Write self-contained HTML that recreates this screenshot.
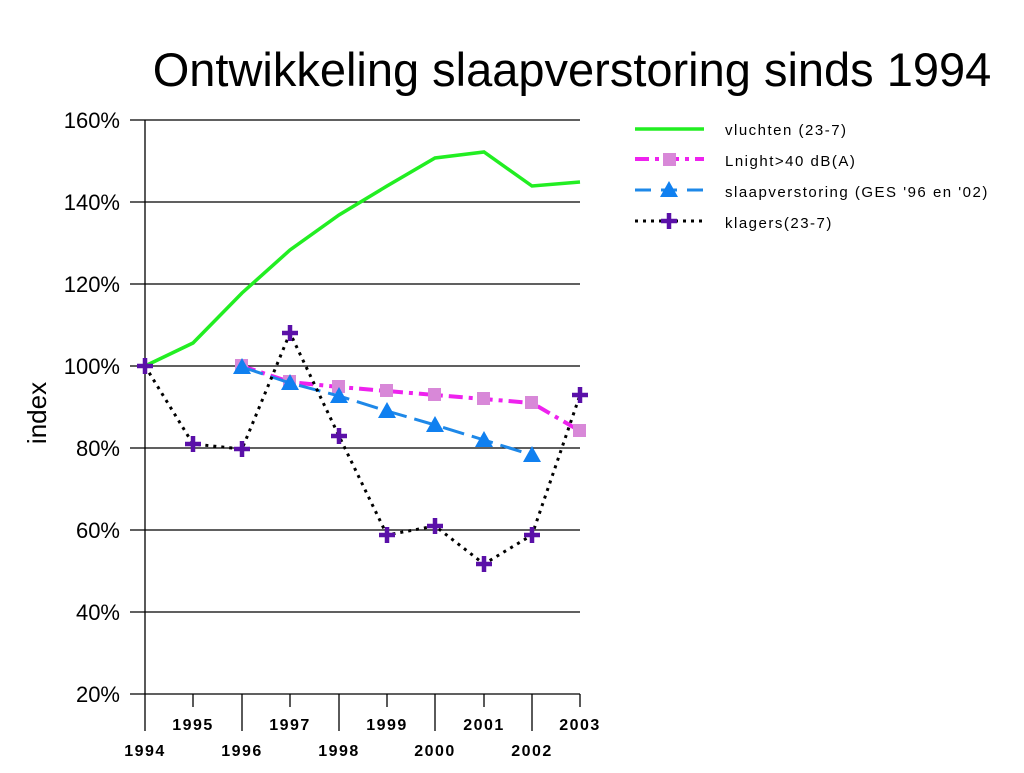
<!DOCTYPE html>
<html><head><meta charset="utf-8"><style>html,body{margin:0;padding:0;background:#fff}</style></head>
<body>
<svg width="1024" height="768" xmlns="http://www.w3.org/2000/svg" font-family="Liberation Sans, sans-serif">
<rect width="1024" height="768" fill="#fff"/>
<text x="572" y="86" font-size="47" text-anchor="middle">Ontwikkeling slaapverstoring sinds 1994</text>
<g stroke="#000" stroke-width="1.3">
<line x1="130" y1="120" x2="580" y2="120"/>
<line x1="130" y1="202" x2="580" y2="202"/>
<line x1="130" y1="284" x2="580" y2="284"/>
<line x1="130" y1="366" x2="580" y2="366"/>
<line x1="130" y1="448" x2="580" y2="448"/>
<line x1="130" y1="530" x2="580" y2="530"/>
<line x1="130" y1="612" x2="580" y2="612"/>
<line x1="130" y1="694" x2="580" y2="694"/>
<line x1="145" y1="120" x2="145" y2="731"/>
<line x1="193" y1="694" x2="193" y2="707"/>
<line x1="242" y1="694" x2="242" y2="731"/>
<line x1="290" y1="694" x2="290" y2="707"/>
<line x1="339" y1="694" x2="339" y2="731"/>
<line x1="387" y1="694" x2="387" y2="707"/>
<line x1="435" y1="694" x2="435" y2="731"/>
<line x1="484" y1="694" x2="484" y2="707"/>
<line x1="532" y1="694" x2="532" y2="731"/>
<line x1="580" y1="694" x2="580" y2="707"/>
</g>
<g font-size="22" text-anchor="end">
<text x="120" y="128">160%</text><text x="120" y="210">140%</text><text x="120" y="292">120%</text>
<text x="120" y="374">100%</text><text x="120" y="456">80%</text><text x="120" y="538">60%</text>
<text x="120" y="620">40%</text><text x="120" y="702">20%</text>
</g>
<text transform="translate(46,413) rotate(-90)" font-size="26" text-anchor="middle">index</text>
<g font-size="16" font-weight="bold" text-anchor="middle" letter-spacing="1.5">
<text x="193" y="730">1995</text><text x="290" y="730">1997</text><text x="387" y="730">1999</text><text x="484" y="730">2001</text><text x="580" y="730">2003</text>
<text x="145" y="756">1994</text><text x="242" y="756">1996</text><text x="339" y="756">1998</text><text x="435" y="756">2000</text><text x="532" y="756">2002</text>
</g>
<polyline fill="none" stroke="#22ee22" stroke-width="3.5" points="145,366 193,343 242,293 290,250 339,215 387,186 435,158 484,152 532,186 580,182"/>
<polyline fill="none" stroke="#ee22ee" stroke-width="4" stroke-dasharray="14,6,4,6" points="242,366 290,382 339,387 387,391 435,395 484,399 532,403 580,431"/>
<g fill="#d888d8">
<rect x="235" y="359" width="13" height="13"/><rect x="283" y="375" width="13" height="13"/><rect x="332" y="380" width="13" height="13"/><rect x="380" y="384" width="13" height="13"/><rect x="428" y="388" width="13" height="13"/><rect x="477" y="392" width="13" height="13"/><rect x="525" y="396" width="13" height="13"/><rect x="573" y="424" width="13" height="13"/>
</g>
<polyline fill="none" stroke="#1e88e8" stroke-width="3" stroke-dasharray="22,8" points="242,367 290,383 339,396 387,411 435,425 484,440 532,455"/>
<g fill="#1080f0">
<polygon points="242,358 233,374 251,374"/><polygon points="290,374 281,390 299,390"/><polygon points="339,387 330,403 348,403"/><polygon points="387,402 378,418 396,418"/><polygon points="435,416 426,432 444,432"/><polygon points="484,431 475,447 493,447"/><polygon points="532,446 523,462 541,462"/>
</g>
<polyline fill="none" stroke="#000" stroke-width="3" stroke-dasharray="3,5" points="145,366 193,444 242,449 290,333 339,436 387,535 435,526 484,564 532,535 580,395"/>
<g stroke="#5a10a8" stroke-width="4.5">
<path d="M137,366h16M145,358v16"/><path d="M185,444h16M193,436v16"/><path d="M234,449h16M242,441v16"/><path d="M282,333h16M290,325v16"/><path d="M331,436h16M339,428v16"/><path d="M379,535h16M387,527v16"/><path d="M427,526h16M435,518v16"/><path d="M476,564h16M484,556v16"/><path d="M524,535h16M532,527v16"/><path d="M572,395h16M580,387v16"/>
</g>
<line x1="635" y1="129" x2="704" y2="129" stroke="#22ee22" stroke-width="3.5"/>
<line x1="635" y1="159" x2="704" y2="159" stroke="#ee22ee" stroke-width="4" stroke-dasharray="14,6,4,6"/>
<rect x="663" y="153" width="13" height="13" fill="#d888d8"/>
<line x1="635" y1="190" x2="704" y2="190" stroke="#1e88e8" stroke-width="3" stroke-dasharray="16,10"/>
<polygon points="669,181 660,197 678,197" fill="#1080f0"/>
<line x1="635" y1="221" x2="704" y2="221" stroke="#000" stroke-width="3" stroke-dasharray="3,5"/>
<path d="M661,221h16M669,213v16" stroke="#5a10a8" stroke-width="4.5"/>
<g font-size="15" letter-spacing="1.5">
<text x="725" y="135">vluchten (23-7)</text>
<text x="725" y="166">Lnight&gt;40 dB(A)</text>
<text x="725" y="197">slaapverstoring (GES '96 en '02)</text>
<text x="725" y="228">klagers(23-7)</text>
</g>
</svg>
</body></html>
